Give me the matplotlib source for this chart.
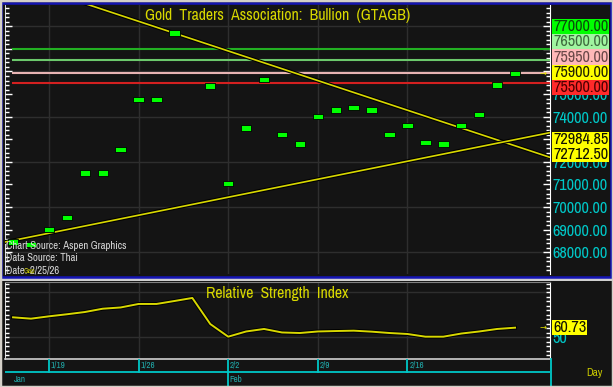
import numpy as np
import matplotlib
matplotlib.use('Agg')
import matplotlib.pyplot as plt
from matplotlib import font_manager
from matplotlib.patches import Rectangle
from matplotlib.ticker import MultipleLocator, FixedLocator, FormatStrFormatter
import matplotlib.patheffects as pe

# Data
dates = ['1/15', '1/16', '1/19', '1/20', '1/21', '1/22', '1/23', '1/26', '1/27', '1/28',
         '1/29', '1/30', '2/2', '2/3', '2/4', '2/5', '2/6', '2/9', '2/10', '2/11',
         '2/12', '2/13', '2/16', '2/17', '2/18', '2/19', '2/20', '2/23', '2/24']
closes = [68450, 68350, 69000, 69550, 71500, 71500, 72550, 74750, 74750, 77700,
          79500, 75350, 71050, 73500, 75650, 73200, 72800, 74000, 74300, 74400,
          74300, 73200, 73600, 72850, 72800, 73600, 74100, 75400, 75900]
rsi = [72.3, 70.8, 73.4, 75.7, 78.2, 81.9, 83.3, 87.2, 87.2, 90.5,
       93.9, 64.8, 50.7, 56.5, 59.3, 55.4, 54.8, 56.5, 57.0, 57.4,
       56.3, 54.8, 53.7, 50.7, 50.7, 54.2, 56.5, 59.3, 60.73]
week_labels = ['1/19', '1/26', '2/2', '2/9', '2/16']
month_labels = [('Jan', '1/15'), ('Feb', '2/2')]

level_vals = [77000, 76500, 75950, 75500]
level_cols = ['#22b022', '#6cc86c', '#e8b4b4', '#d42020']
# right-hand boxes: text, background, text colour
level_boxes = [('77000.00', '#00ff00', '#0a4a0a'),
               ('76500.00', '#a0f5a0', '#3e6a3e'),
               ('75950.00', '#ffb8b8', '#6a4848'),
               ('75900.00', '#ffff00', '#202000'),
               ('75500.00', '#ff2a2a', '#4a0000')]
trend_down = ([4.13, 28], [78973, 72712.50])
trend_up = ([-0.725, 28], [68411, 72984.85])
last_rsi = 60.73

W, H = 613, 387
BG = '#141414'
GRID = '#2e2e2e'
YEL = '#d8d800'
CYAN = '#00c8c8'

names = sorted({f.name for f in font_manager.fontManager.ttflist})
narrow = [n for n in names if 'Narrow' in n or 'Condensed' in n]
family = narrow[0] if narrow else ('Liberation Sans' if 'Liberation Sans' in names else 'DejaVu Sans')
plt.rcParams['font.family'] = [family, 'DejaVu Sans']

def fr(x0, y0, x1, y1):
    return [x0 / W, 1 - y1 / H, (x1 - x0) / W, (y1 - y0) / H]

def fx(x):
    return x / W

def fy(y):
    return 1 - y / H

fig = plt.figure(figsize=(W / 100, H / 100), dpi=100, facecolor=BG)
renderer = fig.canvas.get_renderer()

def fit(s, width):
    # font size that makes string s about `width` pixels wide
    t = fig.text(0, 0, s, fontsize=10)
    w = t.get_window_extent(renderer).width
    t.remove()
    return 10 * width / w

TITLE = 'Gold  Traders  Association:  Bullion  (GTAGB)'
RSI_TITLE = 'Relative  Strength  Index'
fs_val = fit('74000.00', 55)
fs_title = fit(TITLE, 264)
fs_src = fit('Chart Source: Aspen Graphics', 121)
fs_small = fs_src * 0.85

x = np.arange(len(dates))
xlim = (-0.45, 29.95)
weeks = [dates.index(w) for w in week_labels]

# ---- price panel
ax = fig.add_axes(fr(5, 5, 550, 274))
ax.set_facecolor(BG)
ax.set_xlim(*xlim)
ax.set_ylim(67040, 78942)
for v in range(68000, 79000, 2000):
    ax.axhline(v, color=GRID, lw=1, zorder=0)
for w in weeks:
    ax.axvline(w, color=GRID, lw=1, zorder=0)

for v, c in zip(level_vals, level_cols):
    ax.hlines(v, -0.05, xlim[1], color=c, lw=1.5, zorder=2)

stroke = [pe.withStroke(linewidth=2.8, foreground='black')]
for tx, tv in [trend_down, trend_up]:
    slope = (tv[1] - tv[0]) / (tx[1] - tx[0])
    xs = np.array(xlim)
    ax.plot(xs, tv[1] + (xs - tx[1]) * slope, color=YEL, lw=1.2, zorder=3, path_effects=stroke)

ax.bar(x, 240, bottom=np.array(closes) - 120, width=0.58, color='#00ff00',
       edgecolor='black', linewidth=0.6, zorder=4)

ax.set_xticks([])
ax.yaxis.tick_right()
ax.yaxis.set_major_locator(MultipleLocator(1000))
ax.yaxis.set_minor_locator(MultipleLocator(200))
ax.yaxis.set_major_formatter(FormatStrFormatter('%.2f'))
ax.tick_params(axis='y', which='both', direction='in', left=True, right=True,
               color='white', labelcolor=CYAN, labelsize=fs_val, pad=2)
ax.tick_params(axis='y', which='major', length=5, width=1)
ax.tick_params(axis='y', which='minor', length=3, width=1)
for s in ['top', 'bottom']:
    ax.spines[s].set_visible(False)
ax.spines['right'].set_color('white')
ax.spines['left'].set_color('white')
ax.spines['left'].set_linewidth(0.6)

ax.text(0.5, 0.99, TITLE, transform=ax.transAxes,
        ha='center', va='top', color=YEL, fontsize=fs_title)

# ---- RSI panel
ar = fig.add_axes(fr(5, 282, 550, 359))
ar.set_facecolor(BG)
ar.set_xlim(*xlim)
ar.set_ylim(25.8, 111.7)
for v in [50, 100]:
    ar.axhline(v, color=GRID, lw=1, zorder=0)
for w in weeks:
    ar.axvline(w, color=GRID, lw=1, zorder=0)
ar.plot(x, rsi, color=YEL, lw=1.4, path_effects=stroke, zorder=3)
ar.set_xticks([])
ar.yaxis.tick_right()
ar.yaxis.set_major_locator(FixedLocator([50]))
ar.yaxis.set_minor_locator(MultipleLocator(5))
ar.tick_params(axis='y', which='both', direction='in', left=True, right=True,
               color='white', labelcolor=CYAN, labelsize=fs_val, pad=2, length=3, width=1)
ar.spines['top'].set_color('#808080')
ar.spines['bottom'].set_color('#d0d0d0')
ar.spines['bottom'].set_linewidth(1.2)
ar.spines['right'].set_color('white')
ar.spines['left'].set_color('white')
ar.spines['left'].set_linewidth(0.6)
ar.text(0.5, 0.95, RSI_TITLE, transform=ar.transAxes,
        ha='center', va='top', color=YEL, fontsize=fs_title)

# ---- date strip
ad = fig.add_axes(fr(5, 359, 550, 387))
ad.set_facecolor(BG)
ad.set_xlim(*xlim)
ad.set_ylim(0, 1)
ad.axis('off')
ad.axhline(0.55, color=CYAN, lw=1.3)
for w, lab in zip(weeks, week_labels):
    ad.plot([w, w], [0.55, 1], color=CYAN, lw=1.3)
    ad.text(w + 0.1, 0.78, lab, color='#20a8a8', fontsize=fs_small, va='center', ha='left')
for lab, d in month_labels:
    i = dates.index(d)
    if lab != 'Jan':
        ad.plot([i, i], [0, 0.55], color=CYAN, lw=1.3)
    ad.text(i + 0.05, 0.28, lab, color='#20a8a8', fontsize=fs_small, va='center', ha='left')
fig.add_artist(plt.Line2D([fx(550.5), fx(550.5)], [fy(359), fy(387)], color=CYAN, lw=1.3))
fig.text(fx(586), fy(373), 'Day', color='#c8c800', fontsize=fs_src * 1.05, va='center')

# ---- source text
for i, t in enumerate(['Chart Source: Aspen Graphics', 'Data Source: Thai', 'Date: 2/25/26']):
    fig.text(fx(6), fy(246 + 12 * i), t, color='#d8d8d8', fontsize=fs_src, va='center')
fig.text(fx(24), fy(271), 'Gap', color='#c8c800', fontsize=fs_src * 0.7, va='center')

# ---- right-hand value boxes
def box(y0, txt, bg, fg, h=15.2, x0=552, w=57):
    fig.add_artist(Rectangle((fx(x0), fy(y0 + h)), w / W, h / H, transform=fig.transFigure,
                             facecolor=bg, edgecolor='none', zorder=5))
    fig.text(fx(x0 + 1), fy(y0 + h / 2), txt, color=fg, fontsize=fs_val, va='center', ha='left', zorder=6)

for i, (t, bg, fg) in enumerate(level_boxes):
    box(19 + 15.2 * i, t, bg, fg)
for i, v in enumerate([trend_up[1][1], trend_down[1][1]]):
    box(132 + 15 * i, '%.2f' % v, '#ffff00', '#101000', h=15)
box(319.5, '%.2f' % last_rsi, '#ffff00', '#101000', h=15.5, w=35)

for yy in [73, 327]:
    fig.text(fx(540), fy(yy), '\u2192', color='#e0e000', fontsize=6, va='center',
             family='DejaVu Sans', zorder=6)

# ---- frame
fig.add_artist(Rectangle((fx(1.5), fy(276.5)), 609.5 / W, 274 / H, transform=fig.transFigure,
                         facecolor='none', edgecolor='#1414b4', lw=1.8, zorder=7))
fig.add_artist(Rectangle((0, fy(281)), 1, 4 / H, transform=fig.transFigure,
                         facecolor='#cfcfcf', edgecolor='none', zorder=6))
fig.add_artist(Rectangle((0, 0), 1, 1, transform=fig.transFigure,
                         facecolor='none', edgecolor='#d4d0c8', lw=2.5, zorder=8))

fig.savefig('out.png', dpi=100, facecolor=BG)
